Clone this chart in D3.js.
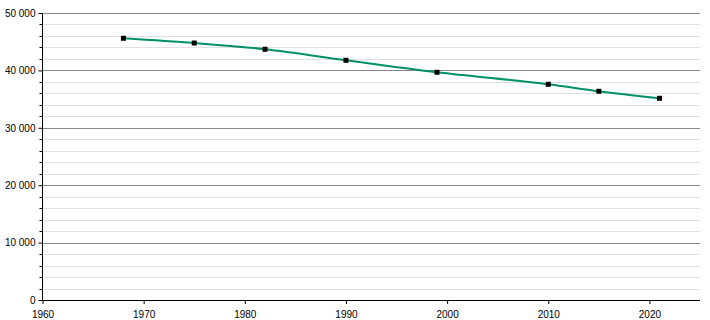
<!DOCTYPE html>
<html>
<head>
<meta charset="utf-8">
<script src="https://cdn.jsdelivr.net/npm/d3@7"></script>
<style>
body { margin: 0; background: #fff; }
text { font-family: "Liberation Sans", Arial, sans-serif; font-size: 10px; fill: #000; }
</style>
</head>
<body>
<div class="container"></div>
<script>
const years = [1968, 1975, 1982, 1990, 1999, 2010, 2015, 2021]
const population = [45600, 44770, 43680, 41760, 39670, 37580, 36360, 35140]
const xTicks = [1960, 1970, 1980, 1990, 2000, 2010, 2020]
const yTicks = [0, 10000, 20000, 30000, 40000, 50000]

const width = 710, height = 320
const plotLeft = 42.5, plotRight = 700, plotTop = 13, plotBottom = 300

const svg = d3.select(".container").append("svg")
    .attr("width", width)
    .attr("height", height)

const x = d3.scaleLinear().domain([1960, 2025]).range([plotLeft, plotRight])
const y = d3.scaleLinear().domain([0, 50000]).range([plotBottom, plotTop])

const fmt = v => d3.format(",")(v).replace(/,/g, " ")

// minor grid every 2000
const minor = d3.range(0, 50001, 2000).filter(v => v % 10000 !== 0)
svg.append("g").selectAll("line").data(minor).enter().append("line")
    .attr("x1", plotLeft).attr("x2", plotRight)
    .attr("y1", d => Math.round(y(d)) + 0.5).attr("y2", d => Math.round(y(d)) + 0.5)
    .attr("stroke", "#e0e0e0")

svg.append("g").selectAll("line").data(yTicks.filter(v => v > 0)).enter().append("line")
    .attr("x1", plotLeft).attr("x2", plotRight)
    .attr("y1", d => Math.round(y(d)) + 0.5).attr("y2", d => Math.round(y(d)) + 0.5)
    .attr("stroke", "#888")

// y axis
const yAxis = svg.append("g").attr("transform", `translate(${plotLeft},0)`)
yAxis.call(d3.axisLeft(y).tickValues(yTicks).tickFormat(fmt).tickSize(4).tickPadding(3))
yAxis.select(".domain").remove()
yAxis.append("line").attr("x1", 0).attr("x2", 0).attr("y1", plotTop).attr("y2", plotBottom).attr("stroke", "#000")
yAxis.selectAll(".tick text").attr("font-size", 10).attr("fill", "#000").attr("font-family", "Liberation Sans, Arial, sans-serif")
yAxis.selectAll("line.minor").data(minor).enter().append("line")
    .attr("class", "minor")
    .attr("x1", -3).attr("x2", 0)
    .attr("y1", d => Math.round(y(d)) + 0.5).attr("y2", d => Math.round(y(d)) + 0.5)
    .attr("stroke", "#000")

// x axis
const xAxis = svg.append("g").attr("transform", `translate(0,${plotBottom})`)
xAxis.call(d3.axisBottom(x).tickValues(xTicks).tickFormat(d3.format("d")).tickSize(4).tickPadding(7))
xAxis.select(".domain").remove()
xAxis.append("line").attr("x1", plotLeft).attr("x2", plotRight).attr("y1", 0.5).attr("y2", 0.5).attr("stroke", "#000")
xAxis.selectAll(".tick text").attr("font-size", 10).attr("fill", "#000").attr("font-family", "Liberation Sans, Arial, sans-serif")

const data = years.map((yr, i) => ({year: yr, value: population[i]}))

const line = d3.line()
    .x(d => x(d.year))
    .y(d => y(d.value))
    .curve(d3.curveMonotoneX)

svg.append("path")
    .datum(data)
    .attr("d", line)
    .attr("fill", "none")
    .attr("stroke", "#00906a")
    .attr("stroke-width", 2)

svg.selectAll("rect.pt").data(data).enter().append("rect")
    .attr("class", "pt")
    .attr("x", d => x(d.year) - 2.5)
    .attr("y", d => y(d.value) - 2.5)
    .attr("width", 5)
    .attr("height", 5)
    .attr("fill", "#000")
</script>
</body>
</html>
